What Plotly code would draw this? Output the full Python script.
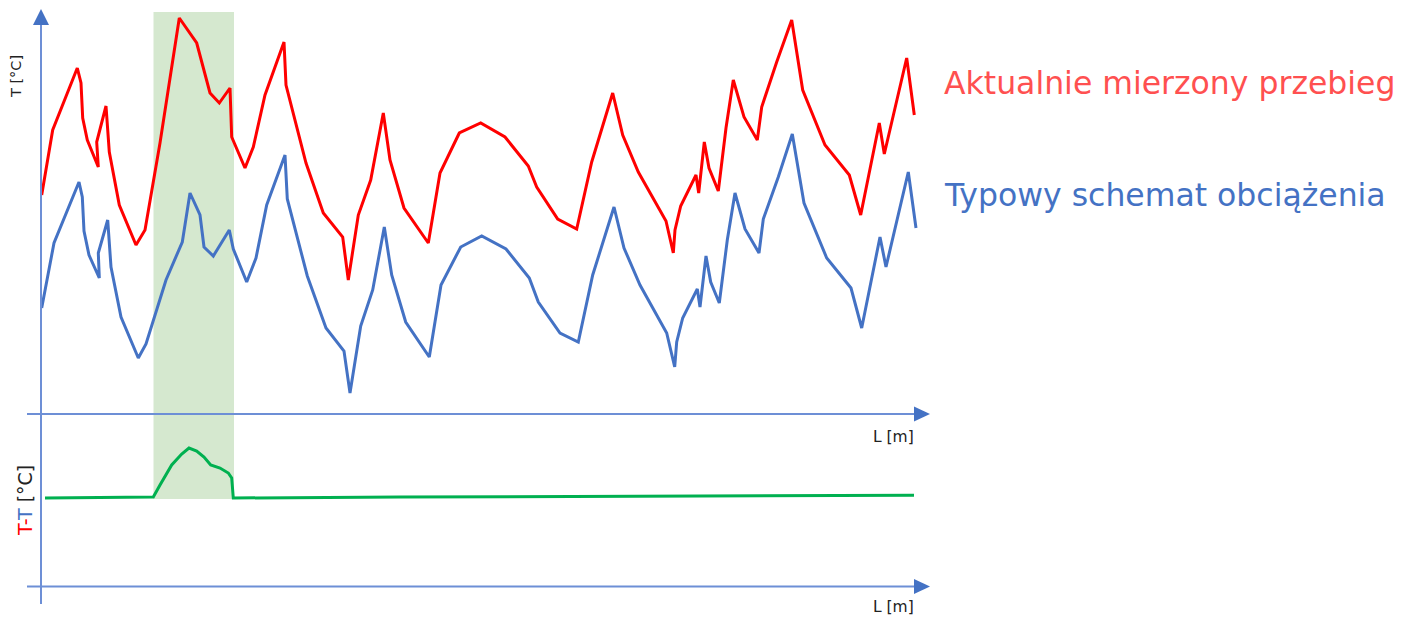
import plotly.graph_objects as go

# Diagram coordinates (x: position along L, y: screen-like vertical scale, reversed axis)
red_x = [41.7, 52.7, 77.3, 81, 82.7, 87.3, 98.3, 96.7, 106, 109.3, 119.3, 136, 145, 160, 179.3, 196.7,
         210, 219.3, 230, 231.7, 245, 253.3, 265, 284, 286, 306, 323.3, 342.7, 348.3, 358.3, 370.7,
         383.3, 390, 404, 428.3, 440, 459.3, 480.7, 505, 528.3, 536.7, 557.7, 576.7, 591.7, 612.7,
         622.7, 638.3, 666, 673.3, 675, 680.7, 696, 698.7, 704.3, 709, 718.3, 726, 733.3, 744, 757.3,
         761.7, 776.7, 791.7, 802.7, 825, 849.3, 860.7, 879.3, 884.3, 906.7, 914.3]
red_y = [195, 130, 68, 83, 118, 140, 167, 142, 106, 152, 205, 245, 230, 143, 18, 43,
         93, 103, 88, 137, 168, 147, 95, 42, 85, 163, 213, 237, 280, 215, 180,
         113, 160, 208, 243, 173, 133, 123, 137, 166, 187, 219, 229, 162, 93,
         135, 172, 221, 253, 230, 206, 175, 193, 142, 168, 191, 128, 80, 117, 140,
         107, 62, 20, 90, 145, 175, 215, 123, 154, 58, 115]

blue_x = [41.7, 54, 79, 82.3, 84, 89, 99.3, 98.3, 107.7, 111, 121, 138.3, 146, 166, 182.3, 190,
          200, 204, 213.3, 229.3, 233.3, 246.7, 256, 266.7, 285, 287.3, 307.3, 326, 344, 350,
          360.7, 372.7, 384.3, 391.7, 405.7, 429.3, 441, 460.7, 481.7, 506, 529.3, 538.3, 560,
          578.3, 592.7, 614, 624, 640, 666.7, 674.7, 676.7, 682.7, 697.3, 700, 706, 710.7, 719.3,
          727.3, 735, 745, 759, 763.3, 778.3, 792.3, 804, 826.7, 851, 861.7, 880, 886, 908.3, 916]
blue_y = [308, 243, 182, 197, 231, 255, 278, 253, 220, 267, 317, 358, 344, 280, 242, 193,
          215, 247, 256, 230, 249, 282, 258, 205, 155, 199, 276, 328, 351, 393,
          326, 290, 227, 275, 322, 357, 285, 247, 236, 249, 278, 302, 333,
          342, 275, 207, 248, 285, 333, 367, 342, 318, 289, 307, 256, 282, 303,
          240, 193, 229, 253, 219, 177, 134, 203, 258, 288, 328, 237, 267, 172, 228]

diff_x = [45, 153.3, 160, 171.7, 181.7, 189, 196.7, 204, 210.7, 220, 228.3, 231.7, 233.3, 400, 914]
diff_y = [498, 497, 485, 465, 454, 448, 451, 457, 465, 468, 473, 478, 498, 497, 495.3]

band_x = [153.5, 234]
band_y = [12, 499]

label_measured = "Aktualnie mierzony przebieg"
label_typical = "Typowy schemat obciążenia"

AX = "#6d8fd6"
AXH = "#4472c4"

fig = go.Figure()
fig.add_trace(go.Scatter(x=red_x, y=red_y, mode="lines", line=dict(color="#ff0000", width=3),
                         showlegend=False, hoverinfo="skip"))
fig.add_trace(go.Scatter(x=blue_x, y=blue_y, mode="lines", line=dict(color="#4472c4", width=3),
                         showlegend=False, hoverinfo="skip"))
fig.add_trace(go.Scatter(x=diff_x, y=diff_y, mode="lines", line=dict(color="#00b050", width=3),
                         showlegend=False, hoverinfo="skip"))

shapes = [
    dict(type="rect", xref="x", yref="y", x0=band_x[0], x1=band_x[1], y0=band_y[0], y1=band_y[1],
         fillcolor="#d5e8cf", line=dict(width=0), layer="below"),
    # vertical axis
    dict(type="line", xref="x", yref="y", x0=41, x1=41, y0=604, y1=22, line=dict(color=AX, width=2)),
    dict(type="path", xref="x", yref="y", path="M 33 25 L 49 25 L 41 9 Z", fillcolor=AXH, line=dict(width=0)),
    # upper horizontal axis
    dict(type="line", xref="x", yref="y", x0=27, x1=918, y0=414, y1=414, line=dict(color=AX, width=2)),
    dict(type="path", xref="x", yref="y", path="M 914 406.5 L 914 421.5 L 930 414 Z", fillcolor=AXH, line=dict(width=0)),
    # lower horizontal axis
    dict(type="line", xref="x", yref="y", x0=27, x1=918, y0=586.5, y1=586.5, line=dict(color=AX, width=2)),
    dict(type="path", xref="x", yref="y", path="M 914 579 L 914 594 L 930 586.5 Z", fillcolor=AXH, line=dict(width=0)),
]

FONT = "DejaVu Sans"
annotations = [
    dict(x=942, y=83, xref="x", yref="y", text=label_measured, showarrow=False, xanchor="left",
         yanchor="middle", font=dict(family=FONT, size=31.5, color="#ff5050")),
    dict(x=942, y=195, xref="x", yref="y", text=label_typical, showarrow=False, xanchor="left",
         yanchor="middle", font=dict(family=FONT, size=31.5, color="#4472c4")),
    dict(x=893, y=437, xref="x", yref="y", text="L [m]", showarrow=False, xanchor="center",
         yanchor="middle", font=dict(family=FONT, size=15.5, color="#222222")),
    dict(x=893, y=607, xref="x", yref="y", text="L [m]", showarrow=False, xanchor="center",
         yanchor="middle", font=dict(family=FONT, size=15.5, color="#222222")),
    dict(x=16, y=77, xref="x", yref="y", text="T [°C]", showarrow=False, textangle=-90,
         xanchor="center", yanchor="middle", font=dict(family=FONT, size=14.5, color="#222222")),
    dict(x=25, y=501, xref="x", yref="y",
         text="<span style='color:#ff0000'>T-</span><span style='color:#4472c4'>T</span> [°C]",
         showarrow=False, textangle=-90, xanchor="center", yanchor="middle",
         font=dict(family=FONT, size=19, color="#222222")),
]

fig.update_layout(
    width=1412, height=620,
    margin=dict(l=0, r=0, t=0, b=0),
    paper_bgcolor="white", plot_bgcolor="white",
    xaxis=dict(range=[0, 1412], visible=False, fixedrange=True),
    yaxis=dict(range=[620, 0], visible=False, fixedrange=True),
    shapes=shapes, annotations=annotations,
)

fig.write_html("out.html", config={"displayModeBar": False},
               post_script="document.body.style.margin='0';document.body.style.overflow='hidden';")
